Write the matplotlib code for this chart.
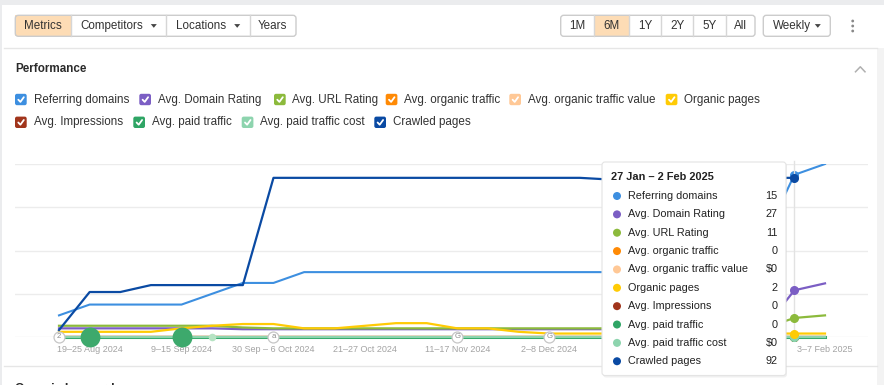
import matplotlib
matplotlib.use('Agg')
import matplotlib.pyplot as plt
from matplotlib.patches import FancyBboxPatch, Rectangle, Circle, Polygon
import numpy as np

plt.rcParams['font.family'] = ['Liberation Sans', 'DejaVu Sans']

# ---- data (weekly, 12 Aug 2024 .. 3 Feb 2025) ----
# labels for 23-29 Dec and 13-19 Jan sit under the tooltip in the original, so left out
tick_weeks = [1, 4, 7, 10, 13, 16, 25]
tick_labels = ['19–25 Aug 2024', '9–15 Sep 2024', '30 Sep – 6 Oct 2024', '21–27 Oct 2024',
               '11–17 Nov 2024', '2–8 Dec 2024', '3–7 Feb 2025']

referring_domains = [2, 3, 3, 3, 3, 4, 5, 5, 6, 6, 6, 6, 6, 6, 6, 6, 6, 6, 6, 6, 6, 6, 6, 9, 15, 16]
domain_rating = [5, 5, 5, 5, 5, 5, 4.5, 4.5, 4.5, 4.5, 4.5, 4.5, 4.5, 4.5, 4.5, 4.5, 4.5, 4.5,
                 4.5, 4.5, 4.5, 4.5, 4.5, 4.5, 27, 31]
url_rating = [6.5, 6.5, 6.5, 6.5, 6.5, 6.5, 5.5, 5, 5, 5, 5, 5, 5, 5, 5, 5, 5, 5,
              5, 5, 5, 5, 5, 5, 11, 12.5]
organic_traffic = [0] * 26
organic_traffic_value = [0] * 26
organic_pages = [3, 3, 3, 3, 5, 6.5, 7.5, 7.5, 5, 5, 6.5, 8, 8, 5, 5, 3, 2, 2,
                 2, 2, 2, 2, 2, 2, 2, 2]
impressions = [0] * 26
paid_traffic = [0] * 26
paid_traffic_cost = [0] * 26
crawled_pages = [4, 26, 26, 30, 30, 30, 30, 92, 92, 92, 92, 92, 92, 92, 92, 92, 92, 92,
                 91, 91, 91, 91, 91, 92, 92, np.nan]

paid_events = [1, 4]
cost_events = [5]
notes = {0: '2', 7: 'a', 13: 'G', 16: 'G'}
hover = 24
hover_title = '27 Jan – 2 Feb 2025'

names = ['Referring domains', 'Avg. Domain Rating', 'Avg. URL Rating', 'Avg. organic traffic',
         'Avg. organic traffic value', 'Organic pages', 'Avg. Impressions', 'Avg. paid traffic',
         'Avg. paid traffic cost', 'Crawled pages']
colors = ['#3d8fe0', '#7b5ec4', '#8cba3c', '#ff8a05', '#ffc896', '#ffcb05',
          '#a1351c', '#2fa565', '#8dd4ae', '#0a4aa3']
values = [referring_domains, domain_rating, url_rating, organic_traffic, organic_traffic_value,
          organic_pages, impressions, paid_traffic, paid_traffic_cost, crawled_pages]
money = [False, False, False, False, True, False, False, False, True, False]

W, H = 884, 385
fig = plt.figure(figsize=(W / 100, H / 100), dpi=100)
fig.patch.set_facecolor('white')

bg = fig.add_axes([0, 0, 1, 1], zorder=0)
bg.set_xlim(0, W)
bg.set_ylim(H, 0)
bg.axis('off')

# page frame
bg.add_patch(Rectangle((0, 0), W, 4.7, fc='#ebecee', ec='none'))
bg.add_patch(Rectangle((0, 0), 2, H, fc='#ebecee', ec='none'))
bg.add_patch(Rectangle((877, 48), 7, H, fc='#f3f3f3', ec='none'))
bg.plot([4, 877], [47.7, 47.7], color='#e6e6e6', lw=1)
bg.plot([4, 877], [366, 366], color='#e6e6e6', lw=1)

TXT = '#333333'
FS = 8.4


def button_group(edges, labels, active, arrows=()):
    y0, y1 = 15.3, 36.3
    yc = (y0 + y1) / 2
    for k, lab in enumerate(labels):
        if k == active:
            bg.add_patch(Rectangle((edges[k], y0), edges[k + 1] - edges[k], y1 - y0,
                                   fc='#fddcb5', ec='none'))
        if k in arrows:
            bg.text(edges[k] + 9.5, yc, lab, ha='left', va='center', fontsize=FS, color=TXT)
            ax_ = edges[k + 1] - 12.5
            bg.add_patch(Polygon([(ax_ - 3, yc - 1.7), (ax_ + 3, yc - 1.7), (ax_, yc + 2)],
                                 closed=True, fc='#444444', ec='none'))
        else:
            bg.text((edges[k] + edges[k + 1]) / 2, yc, lab, ha='center', va='center',
                    fontsize=FS, color=TXT)
    for e in edges[1:-1]:
        bg.plot([e, e], [y0, y1], color='#d6d6d6', lw=1)
    bg.add_patch(FancyBboxPatch((edges[0], y0), edges[-1] - edges[0], y1 - y0,
                                boxstyle='round,pad=0,rounding_size=3', fc='none',
                                ec='#cccccc', lw=1))


button_group([15.3, 70.7, 166.3, 249.7, 296], ['Metrics', 'Competitors', 'Locations', 'Years'], 0, (1, 2))
button_group([560.7, 594.3, 628.7, 661, 693.3, 725.7, 755], ['1M', '6M', '1Y', '2Y', '5Y', 'All'], 1)
button_group([763.3, 830.3], ['Weekly'], -1, (0,))
for yy in (21, 26, 31):
    bg.add_patch(Circle((852.7, yy), 1.4, fc='#888888', ec='none'))

bg.text(15, 69.5, 'Performance', ha='left', va='center', fontsize=8.4, fontweight='bold', color='#2b2b2b')
bg.plot([855.5, 860.3, 865], [71.8, 66.8, 71.8], color='#b0b0b0', lw=1.1)
bg.text(15, 389, 'Organic keywords', ha='left', va='center', fontsize=8.8, fontweight='bold', color='#2b2b2b')

# legend checkboxes
legend_pos = [(15, 99.5), (139.3, 99.5), (274, 99.5), (385.7, 99.5), (509.3, 99.5), (665.7, 99.5),
              (15, 122.3), (133.3, 122.3), (241.7, 122.3), (374.3, 122.3)]
for (x, yc), name, col in zip(legend_pos, names, colors):
    bg.add_patch(FancyBboxPatch((x, yc - 5.7), 11.7, 11.4, boxstyle='round,pad=0,rounding_size=2',
                                fc=col, ec='none'))
    bg.plot([x + 3.3, x + 5.4, x + 8.8], [yc + 0.2, yc + 2.4, yc - 2.3], color='white', lw=1.3,
            solid_capstyle='round', solid_joinstyle='round')
    bg.text(x + 18.5, yc, name, ha='left', va='center', fontsize=FS, color=TXT)

# ---- chart ----
x_left, x_right, y_top, y_base = 15, 868, 164, 337
x0_px, step_px = 59, 30.64
ax = fig.add_axes([x_left / W, (H - y_base) / H, (x_right - x_left) / W, (y_base - y_top) / H], zorder=2)
ax2 = ax.twinx()
ax2.set_zorder(1)
ax.patch.set_visible(False)
ax2.patch.set_visible(False)
weeks = np.arange(len(crawled_pages))
ax.set_xlim((x_left - x0_px) / step_px, (x_right - x0_px) / step_px)
ax.set_ylim(0, 100)
ax2.set_ylim(0, 16)
ax2.set_yticks([0, 4, 8, 12, 16])
ax2.grid(axis='y', color='#ececec', lw=1)
ax2.tick_params(right=False, labelright=False)
ax.set_yticks([])
for a in (ax, ax2):
    for s in a.spines.values():
        s.set_visible(False)
ax.set_xticks(tick_weeks, tick_labels)
ax.tick_params(axis='x', length=0, pad=5.5, labelsize=6.5, labelcolor='#a3a3a3')

ax.axvline(hover, ymin=0, ymax=1.02, color='#e2e2e2', lw=1, clip_on=False, zorder=0.5)

# referring domains on its own scale
ax2.plot(weeks, referring_domains, color=colors[0], lw=1.5, marker='o', markevery=[hover], ms=5.5)

draw_order = [3, 4, 6, 7, 8, 1, 2, 5, 9]
for k in draw_order:
    ax.plot(weeks, values[k], color=colors[k], lw=1.6 if k != 7 else 2.2,
            marker='o', markevery=[hover], ms=5.5, clip_on=False, zorder=2 + draw_order.index(k) * 0.1)

ax.scatter(paid_events, [paid_traffic[i] for i in paid_events], s=205, color='#3da96c',
           zorder=6, clip_on=False, linewidths=0)
ax.scatter(cost_events, [paid_traffic_cost[i] for i in cost_events], s=30, color='#b6e3c3',
           zorder=6, clip_on=False, linewidths=0)
ax.scatter(list(notes.keys()), [0] * len(notes), s=62, facecolor='white', edgecolor='#c6c6c6',
           linewidths=0.9, zorder=7, clip_on=False)
for i, lab in notes.items():
    ax.text(i, 0, lab, ha='center', va='center', fontsize=5.6, color='#8c8c8c', zorder=8)

# ---- tooltip ----
top = fig.add_axes([0, 0, 1, 1], zorder=5)
top.set_xlim(0, W)
top.set_ylim(H, 0)
top.axis('off')
top.patch.set_visible(False)
top.add_patch(FancyBboxPatch((603, 163.5), 184, 214, boxstyle='round,pad=0,rounding_size=3',
                             fc='#000000', alpha=0.06, ec='none'))
top.add_patch(FancyBboxPatch((602, 162), 184, 213.5, boxstyle='round,pad=0,rounding_size=3',
                             fc='white', ec='#e4e4e4', lw=0.8))
top.text(611, 177, hover_title, ha='left', va='center', fontsize=7.9, fontweight='bold', color='#222222')
for k, (name, col, vals, m) in enumerate(zip(names, colors, values, money)):
    yy = 196 + 18.36 * k
    v = vals[hover]
    vtxt = ('$' if m else '') + f'{v:g}'
    top.add_patch(Circle((617, yy), 4, fc=col, ec='none'))
    top.text(627.7, yy, name, ha='left', va='center', fontsize=7.8, color='#222222')
    top.text(777.7, yy, vtxt, ha='right', va='center', fontsize=7.8, color='#222222')

fig.savefig('out.png', dpi=100)
